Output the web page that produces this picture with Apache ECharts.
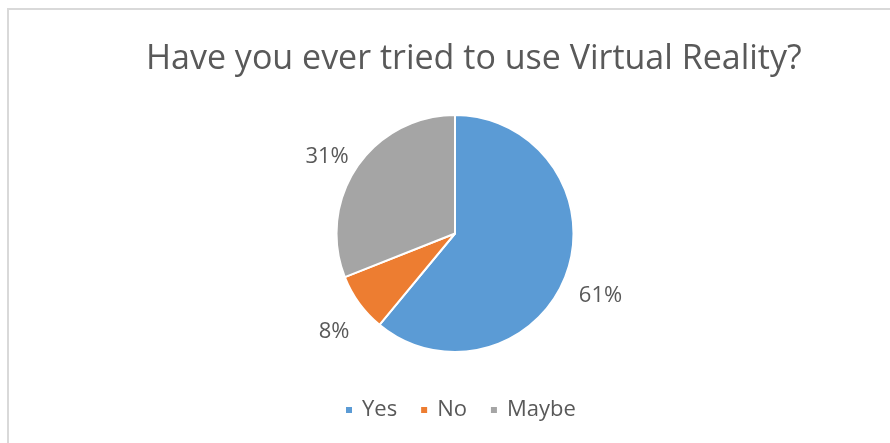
<!DOCTYPE html>
<html>
<head>
<meta charset="utf-8">
<script src="https://cdn.jsdelivr.net/npm/echarts@6/dist/echarts.min.js"></script>
<style>
html,body{margin:0;padding:0;background:#fff;}
#chart{width:890px;height:443px;}
</style>
</head>
<body>
<div id="chart"></div>
<script>
// Data
const titleText = 'Have you ever tried to use Virtual Reality?';
const categories = ['Yes', 'No', 'Maybe'];
const values = [61, 8, 31];
const colors = ['#5B9BD5', '#ED7D31', '#A5A5A5'];

const CX = 455, CY = 233.5, R = 118.5, LABEL_GAP = 12, LABEL_DY = 10;
const total = values.reduce((a, b) => a + b, 0);
const midAngles = [];
(function () {
  let acc = 0;
  values.forEach(v => { midAngles.push((acc + v / 2) / total * 2 * Math.PI); acc += v; });
})();

const chart = echarts.init(document.getElementById('chart'), null, {renderer: 'canvas'});
const FONT = '"Open Sans", "Liberation Sans", sans-serif';
chart.setOption({
  animation: false,
  backgroundColor: '#ffffff',
  graphic: [{
    type: 'rect',
    shape: {x: 8, y: 9, width: 2000, height: 2000},
    style: {fill: 'none', stroke: '#D9D9D9', lineWidth: 2},
    silent: true
  }],
  title: {
    text: titleText,
    left: 146,
    top: 42,
    padding: 0,
    textStyle: {fontFamily: FONT, fontSize: 34, fontWeight: 'normal', color: '#595959'}
  },
  legend: {
    data: categories,
    bottom: 17,
    left: 339,
    icon: 'rect',
    itemWidth: 8,
    itemHeight: 8,
    itemGap: 22,
    textStyle: {fontFamily: FONT, fontSize: 22, color: '#595959', padding: [0, 0, 0, 4]}
  },
  series: [{
    type: 'pie',
    center: [CX, CY],
    radius: R,
    startAngle: 90,
    clockwise: true,
    itemStyle: {borderColor: '#ffffff', borderWidth: 2},
    label: {
      show: true,
      position: 'outside',
      fontFamily: FONT,
      fontSize: 22,
      color: '#595959',
      formatter: p => p.value + '%'
    },
    labelLine: {show: false, length: 5, length2: 0},
    labelLayout: function (params) {
      const a = midAngles[params.dataIndex];
      const s = Math.sin(a), c = -Math.cos(a);
      const w = params.labelRect.width / 2, h = params.labelRect.height / 2;
      const ext = Math.abs(w * s) + Math.abs(h * c);
      const d = R + LABEL_GAP + ext;
      return {x: CX + d * s, y: CY + d * c + LABEL_DY, align: 'center', verticalAlign: 'middle'};
    },
    emphasis: {disabled: true},
    data: categories.map((name, i) => ({name: name, value: values[i], itemStyle: {color: colors[i]}}))
  }]
});
</script>
</body>
</html>
